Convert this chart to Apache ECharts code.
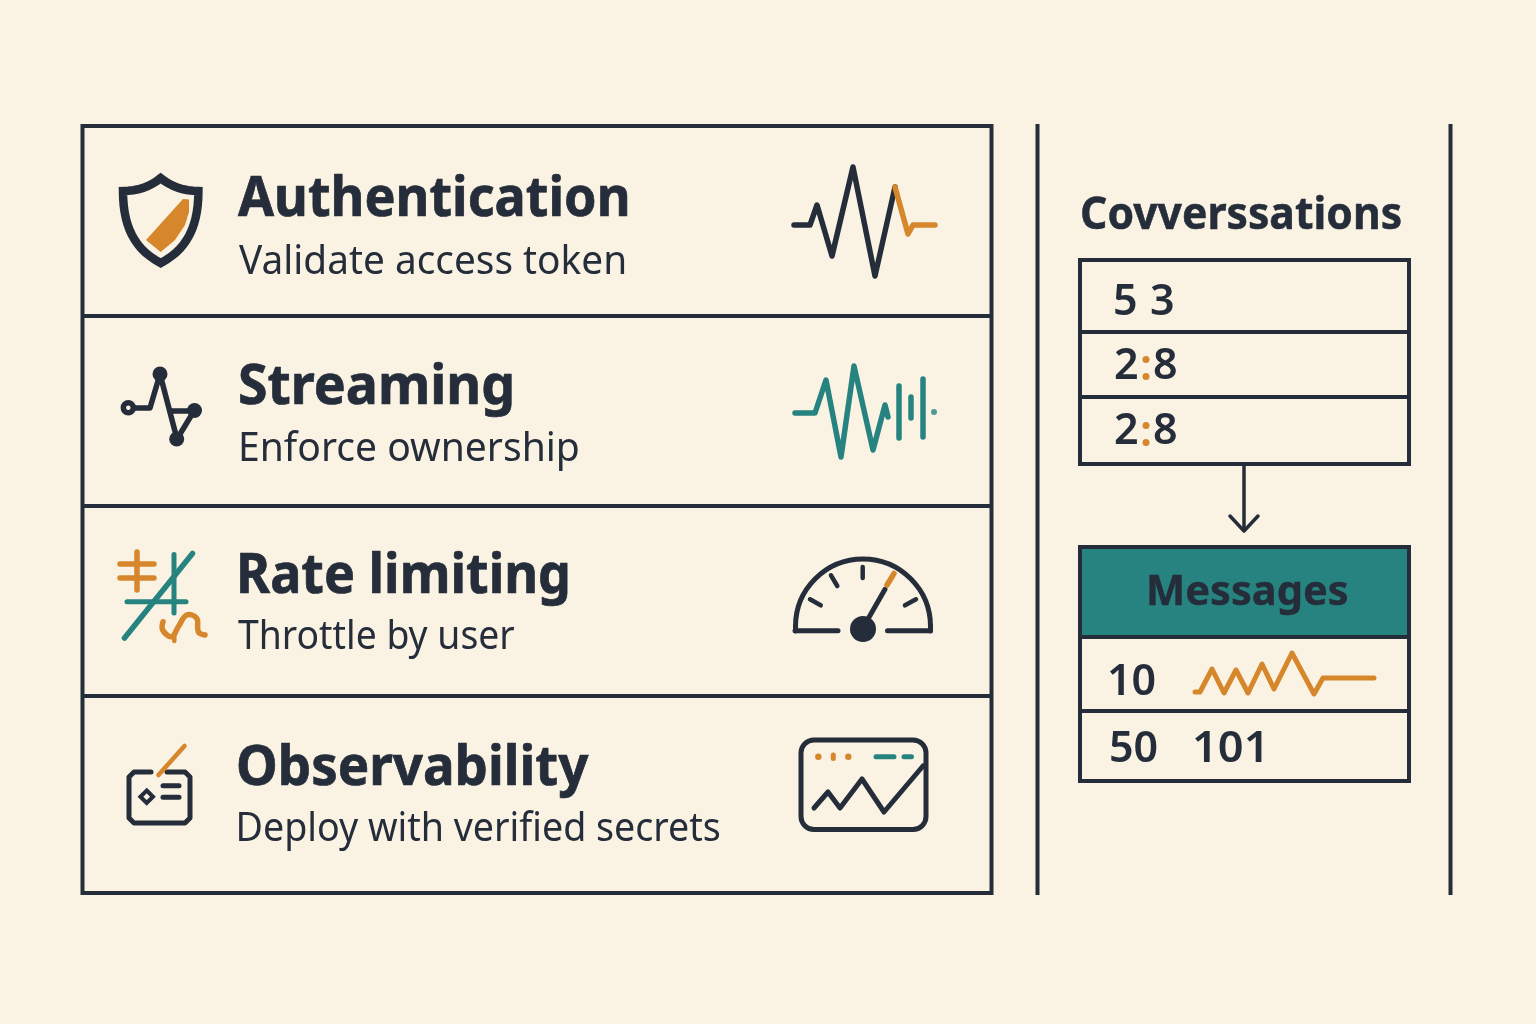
<!DOCTYPE html>
<html>
<head>
<meta charset="utf-8">
<title>API checks</title>
<style>
  html, body { margin: 0; padding: 0; background: #FAF3E3; }
  #chart { width: 1536px; height: 1024px; }
</style>
<script src="https://cdn.jsdelivr.net/npm/echarts@6/dist/echarts.min.js"></script>
</head>
<body>
<div id="chart"></div>
<script>
// texts
const rowTitles = ['Authentication', 'Streaming', 'Rate limiting', 'Observability'];
const rowNotes = ['Validate access token', 'Enforce ownership', 'Throttle by user', 'Deploy with verified secrets'];
const sideTitle = 'Covverssations';
const boxTitle = 'Messages';
const firstRow = ['5', '3'];
const ratioRow = ['2', ':', '8'];
const msgFirst = '10';
const msgSecond = ['50', '101'];

// sparklines, [step, level]
const authPulse = [[4, 55], [20, 55], [27, 75], [42, 24], [63, 113], [85, 4], [105, 93]];
const authTail = [[105, 93], [118, 46], [123, 55], [145, 55]];
const streamPulse = [[5, 52], [25, 52], [36, 85], [51, 8], [64, 99], [83, 15], [95, 60], [98, 48]];
const streamBars = [[109, 79], [109, 27], '-', [121, 68], [121, 47], '-', [133, 86], [133, 28]];
const streamDot = [[144, 53]];
const msgPulse = [[5, 8], [10, 8], [22, 31], [34, 7], [46, 30], [58, 7], [72, 36], [84, 11], [102, 47], [124, 6], [133, 22], [184, 22]];
const obsTrend = [[4, 7], [18, 23], [30, 7], [52, 36], [74, 3], [113, 49]];

const DARK = '#252D3A';
const ORANGE = '#D6862B';
const TEAL = '#26837F';
const BG = '#FAF3E3';
const SANS = '"Noto Sans", "Open Sans", sans-serif';

function text(str, x, y, size, weight, fill, scaleX, bold) {
  return {
    type: 'text', x: x, y: y, scaleX: scaleX || 1, silent: true,
    style: {
      text: str, x: 0, y: 0, font: weight + ' ' + size + 'px ' + SANS, fill: fill || DARK,
      stroke: bold ? (fill || DARK) : null, lineWidth: bold || 0,
      textAlign: 'left', textVerticalAlign: 'middle'
    }
  };
}
function line(x1, y1, x2, y2, color, width, cap) {
  return {
    type: 'line', silent: true,
    shape: { x1: x1, y1: y1, x2: x2, y2: y2 },
    style: { stroke: color || DARK, lineWidth: width || 4, lineCap: cap || 'round' }
  };
}
function poly(points, color, width, smooth) {
  return {
    type: 'polyline', silent: true,
    shape: { points: points, smooth: smooth || 0 },
    style: { stroke: color || DARK, lineWidth: width || 4.5, fill: null, lineCap: 'round', lineJoin: 'round' }
  };
}
function dot(cx, cy, r, color) {
  return { type: 'circle', silent: true, shape: { cx: cx, cy: cy, r: r }, style: { fill: color || DARK } };
}
// sample one cubic so the shield can be a plain polygon
function cubic(p0, c1, c2, p1, n) {
  const out = [];
  for (let i = 0; i <= n; i++) {
    const t = i / n, u = 1 - t;
    out.push([
      u * u * u * p0[0] + 3 * u * u * t * c1[0] + 3 * u * t * t * c2[0] + t * t * t * p1[0],
      u * u * u * p0[1] + 3 * u * u * t * c1[1] + 3 * u * t * t * c2[1] + t * t * t * p1[1]
    ]);
  }
  return out;
}

function frames() {
  const els = [
    { type: 'rect', silent: true, shape: { x: 82.5, y: 126, width: 909, height: 767 }, style: { fill: null, stroke: DARK, lineWidth: 4 } },
    line(84, 316, 990, 316, DARK, 4, 'butt'),
    line(84, 506, 990, 506, DARK, 4, 'butt'),
    line(84, 696, 990, 696, DARK, 4, 'butt'),
    line(1037.5, 124, 1037.5, 895, DARK, 4, 'butt'),
    line(1450.5, 124, 1450.5, 895, DARK, 4, 'butt'),
    // conversation table
    { type: 'rect', silent: true, shape: { x: 1080, y: 260, width: 329, height: 204 }, style: { fill: null, stroke: DARK, lineWidth: 4 } },
    line(1080, 332, 1409, 332, DARK, 4, 'butt'),
    line(1080, 397, 1409, 397, DARK, 4, 'butt'),
    // arrow
    line(1244, 465, 1244, 530, DARK, 3.5, 'butt'),
    poly([[1230, 516], [1244, 531], [1258, 516]], DARK, 3.5),
    // messages table
    { type: 'rect', silent: true, shape: { x: 1082, y: 549, width: 325, height: 87 }, style: { fill: TEAL } },
    { type: 'rect', silent: true, shape: { x: 1080, y: 547, width: 329, height: 234 }, style: { fill: null, stroke: DARK, lineWidth: 4 } },
    line(1080, 637, 1409, 637, DARK, 4, 'butt'),
    line(1080, 711, 1409, 711, DARK, 4, 'butt')
  ];
  return els;
}

function labels() {
  const titleY = [200, 388, 577, 769];
  const titleX = [238, 238, 236, 236];
  const titleFit = [0.931, 0.958, 0.93, 0.943];
  const noteY = [263, 450, 638, 830];
  const noteX = [239, 238, 238, 235.5];
  const noteFit = [0.97, 0.976, 0.933, 0.94];
  const els = [];
  rowTitles.forEach((t, i) => els.push(text(t, titleX[i], titleY[i], 56, 700, DARK, titleFit[i], 0.7)));
  rowNotes.forEach((t, i) => els.push(text(t, noteX[i], noteY[i], 40, 400, DARK, noteFit[i])));
  els.push(text(sideTitle, 1080, 216, 44, 700, DARK, 0.97, 0.5));
  els.push(text(boxTitle, 1146, 593, 42, 700, DARK, 0.99, 0.4));
  els.push(text(firstRow[0], 1113, 303, 43, 600));
  els.push(text(firstRow[1], 1150, 303, 43, 600));
  [[367, 368], [432, 434]].forEach(r => {
    els.push(text(ratioRow[0], 1114, r[0], 43, 600));
    els.push(dot(1146, r[1] - 8.5, 3.5, ORANGE));
    els.push(dot(1146, r[1] + 8.5, 3.5, ORANGE));
    els.push(text(ratioRow[2], 1153, r[0], 43, 600));
  });
  els.push(text(msgFirst, 1107, 683, 43, 600));
  els.push(text(msgSecond[0], 1109, 750, 43, 600));
  els.push(text(msgSecond[1], 1192, 750, 43, 600, DARK, 1.05));
  return els;
}

function icons() {
  const shieldLeft = cubic([123, 191], [123, 226], [134, 249], [160.7, 263], 14);
  const shieldRight = shieldLeft.map(p => [321.4 - p[0], p[1]]).reverse();
  const topLeft = cubic([160.7, 178], [150, 187], [137, 191], [123, 191], 8);
  const topRight = topLeft.map(p => [321.4 - p[0], p[1]]).reverse();
  const shield = topLeft.concat(shieldLeft.slice(1), shieldRight.slice(1), topRight.slice(1));
  return [
    // shield
    { type: 'polygon', silent: true, shape: { points: shield }, style: { fill: null, stroke: DARK, lineWidth: 8.5, lineJoin: 'miter' } },
    { type: 'polygon', silent: true, shape: { points: [[183, 199], [189, 199.5], [189, 212], [185, 225], [175, 240], [160.7, 252], [146, 240]] }, style: { fill: ORANGE } },
    // network
    poly([[128, 408], [150, 408], [160, 374], [177, 439], [194, 411], [172, 411]], DARK, 5.5),
    { type: 'circle', silent: true, shape: { cx: 128.3, cy: 407.7, r: 5 }, style: { fill: BG, stroke: DARK, lineWidth: 5.5 } },
    dot(160, 374, 7.5), dot(194.5, 410.5, 7.5), dot(176.7, 439, 7.5),
    // rate limiter
    line(137, 552, 137, 590, ORANGE, 5.5), line(120, 564, 154, 564, ORANGE, 5.5), line(120, 578, 154, 578, ORANGE, 5.5),
    line(127, 601.7, 186, 601.7, TEAL, 5), line(174, 554.5, 174, 613, TEAL, 5), line(124.5, 638, 192.5, 553.5, TEAL, 5.5),
    poly([[163, 621.7], [162.7, 630], [171.7, 636.7], [178.3, 626.7], [186.7, 615], [196.7, 618.3], [198.3, 631.7], [205, 635]], ORANGE, 5.5, 0.4),
    line(174.3, 634, 174.3, 641, ORANGE, 4.5),
    // card
    poly([[151, 772], [134, 772], [129, 777], [129, 818], [134, 823], [185, 823], [190, 818], [190, 777], [185, 772], [167, 772]], DARK, 5),
    line(158.5, 775, 184.5, 746, ORANGE, 4.5),
    { type: 'polygon', silent: true, shape: { points: [[146.7, 790.5], [153, 796.7], [146.7, 803], [140.4, 796.7]] }, style: { fill: null, stroke: DARK, lineWidth: 4 } },
    line(163, 785.7, 179, 785.7, DARK, 5), line(163, 797.3, 179, 797.3, DARK, 5),
    // gauge
    { type: 'arc', silent: true, shape: { cx: 863, cy: 626.5, r: 67.5, startAngle: Math.PI, endAngle: Math.PI * 2, clockwise: true }, style: { stroke: DARK, lineWidth: 5, fill: null } },
    line(795.5, 626, 795.5, 631, DARK, 5), line(930.5, 626, 930.5, 631, DARK, 5),
    line(795, 630.7, 838, 630.7, DARK, 5), line(887.5, 630.7, 930, 630.7, DARK, 5),
    line(810, 599.3, 820.7, 605.3, DARK, 4.5), line(831, 575.3, 837.3, 586, DARK, 4.5), line(862.7, 567, 862.7, 578, DARK, 4.5), line(905, 605.3, 916, 599.3, DARK, 4.5),
    line(868, 619, 885, 589.3, DARK, 5), line(887, 585, 894, 573.5, ORANGE, 5.5),
    dot(863, 629, 13),
    // small dashboard frame
    { type: 'rect', silent: true, shape: { x: 801, y: 740, width: 125, height: 89.5, r: 13 }, style: { fill: null, stroke: DARK, lineWidth: 5 } },
    dot(818.3, 756.7, 3.2, ORANGE), line(833.3, 755, 833.3, 758.5, ORANGE, 5), dot(848.3, 756.7, 3.2, ORANGE),
    line(876, 756.7, 894, 756.7, TEAL, 5), line(904, 756.7, 911.5, 756.7, TEAL, 5)
  ];
}

function sparkLine(name, idx, data, color, width) {
  return {
    name: name, type: 'line', xAxisIndex: idx, yAxisIndex: idx, data: data,
    symbol: 'none', silent: true, animation: false, connectNulls: false, clip: false,
    lineStyle: { color: color, width: width, cap: 'round', join: 'round' }
  };
}

const grids = [
  { left: 790, top: 160, width: 150, height: 120 },
  { left: 790, top: 360, width: 150, height: 105 },
  { left: 1190, top: 650, width: 190, height: 50 },
  { left: 810, top: 760, width: 120, height: 55 }
];

const chart = echarts.init(document.getElementById('chart'));
chart.setOption({
  backgroundColor: BG,
  animation: false,
  grid: grids,
  xAxis: grids.map((g, i) => ({ type: 'value', gridIndex: i, min: 0, max: g.width, show: false })),
  yAxis: grids.map((g, i) => ({ type: 'value', gridIndex: i, min: 0, max: g.height, show: false })),
  graphic: { elements: frames().concat(labels(), icons()) },
  series: [
    sparkLine('auth', 0, authPulse, DARK, 5.5),
    sparkLine('auth tail', 0, authTail, ORANGE, 5.5),
    sparkLine('stream', 1, streamPulse, TEAL, 5.5),
    sparkLine('stream bars', 1, streamBars, TEAL, 5.5),
    {
      name: 'stream dot', type: 'scatter', xAxisIndex: 1, yAxisIndex: 1, data: streamDot,
      symbolSize: 6, silent: true, itemStyle: { color: TEAL }
    },
    sparkLine('messages', 2, msgPulse, ORANGE, 5),
    sparkLine('trend', 3, obsTrend, DARK, 5)
  ]
});
</script>
</body>
</html>
